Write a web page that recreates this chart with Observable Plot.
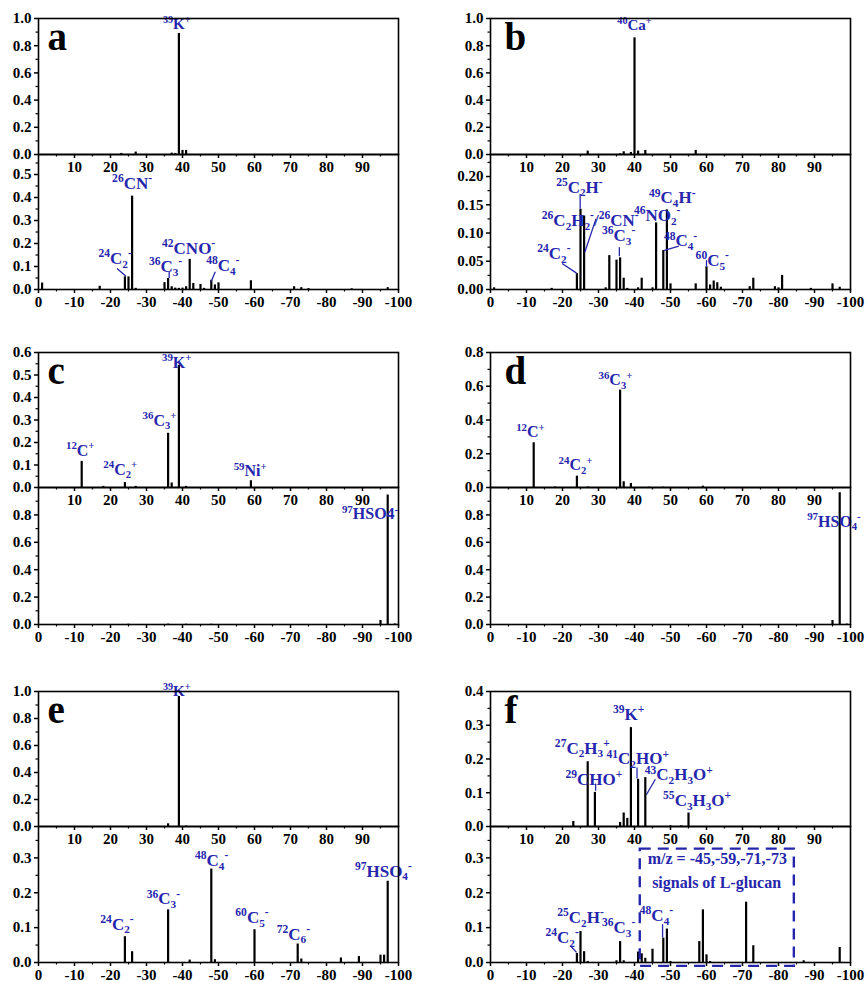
<!DOCTYPE html>
<html><head><meta charset="utf-8">
<script src="https://cdn.jsdelivr.net/npm/d3@7"></script>
<script src="https://cdn.jsdelivr.net/npm/@observablehq/plot@0.6"></script>
<style>
body{margin:0;background:#fff;}
#fig{position:relative;width:866px;height:981px;overflow:hidden;background:#fff;}
#fig svg{position:absolute;}
</style></head><body><div id="fig"></div><script>
// ---------- data (m/z, relative intensity) ----------
// Panel a
const aPosMz = [23, 27, 37, 38, 39, 40, 41];
const aPosI  = [0.008, 0.018, 0.01, 0.008, 0.89, 0.03, 0.03];
const aNegMz = [1, 17, 24, 25, 26, 27, 35, 36, 37, 38, 39, 40, 41, 42, 43, 45, 46, 48, 49, 50, 59, 71, 73, 75, 87, 97];
const aNegI  = [0.028, 0.014, 0.055, 0.055, 0.406, 0.005, 0.03, 0.048, 0.012, 0.006, 0.005, 0.006, 0.012, 0.131, 0.026, 0.022, 0.005, 0.04, 0.02, 0.029, 0.038, 0.012, 0.008, 0.004, 0.003, 0.008];
// Panel b
const bPosMz = [27, 36, 37, 39, 40, 41, 43, 57];
const bPosI  = [0.025, 0.005, 0.02, 0.015, 0.858, 0.025, 0.03, 0.03];
const bNegMz = [1, 17, 24, 25, 26, 32, 33, 35, 36, 37, 38, 41, 42, 45, 46, 48, 49, 50, 57, 60, 61, 62, 63, 64, 72, 73, 79, 80, 81, 89, 95, 97];
const bNegI  = [0.003, 0.002, 0.028, 0.142, 0.13, 0.003, 0.06, 0.052, 0.056, 0.02, 0.002, 0.003, 0.02, 0.003, 0.118, 0.069, 0.141, 0.01, 0.01, 0.04, 0.008, 0.015, 0.012, 0.004, 0.005, 0.02, 0.005, 0.003, 0.025, 0.002, 0.01, 0.004];
// Panel c
const cPosMz = [12, 18, 24, 27, 36, 37, 39, 41, 59];
const cPosI  = [0.116, 0.005, 0.022, 0.005, 0.241, 0.02, 0.543, 0.005, 0.03];
const cNegMz = [25, 36, 41, 48, 95, 97, 99];
const cNegI  = [0.002, 0.003, 0.002, 0.002, 0.029, 0.945, 0.004];
// Panel d
const dPosMz = [12, 18, 24, 27, 36, 37, 39, 44, 48, 59];
const dPosI  = [0.265, 0.003, 0.067, 0.003, 0.577, 0.034, 0.024, 0.002, 0.002, 0.008];
const dNegMz = [95, 97, 99];
const dNegI  = [0.029, 0.962, 0.003];
// Panel e
const ePosMz = [36, 39, 41];
const ePosI  = [0.02, 0.963, 0.003];
const eNegMz = [24, 26, 36, 42, 48, 49, 60, 72, 73, 84, 89, 95, 96, 97];
const eNegI  = [0.074, 0.031, 0.151, 0.007, 0.268, 0.008, 0.094, 0.053, 0.01, 0.013, 0.017, 0.021, 0.021, 0.233];
// Panel f
const fPosMz = [23, 27, 29, 36, 37, 38, 39, 41, 43, 50, 53, 55];
const fPosI  = [0.015, 0.192, 0.101, 0.012, 0.04, 0.024, 0.293, 0.14, 0.145, 0.002, 0.002, 0.04];
const fNegMz = [24, 25, 26, 27, 35, 36, 37, 41, 42, 43, 45, 48, 49, 50, 58, 59, 60, 61, 71, 73, 87, 97];
const fNegI  = [0.026, 0.089, 0.031, 0.003, 0.005, 0.06, 0.005, 0.03, 0.025, 0.012, 0.038, 0.07, 0.096, 0.003, 0.06, 0.151, 0.022, 0.003, 0.173, 0.048, 0.005, 0.043];

// ---------- peak labels (m/z, intensity anchor, text with ^{sup} _{sub}) ----------
const aPosLab = [{x: 38.4, y: 0.955, t: "^{39}K^{+}"}];
const aNegLab = [
  {x: 26, y: 0.46, t: "^{26}CN^{-}"},
  {x: 21.3, y: 0.135, t: "^{24}C_{2}^{-}"},
  {x: 35.3, y: 0.1, t: "^{36}C_{3}^{-}"},
  {x: 41.7, y: 0.178, t: "^{42}CNO^{-}"},
  {x: 51.2, y: 0.105, t: "^{48}C_{4}^{-}"}
];
const aNegLead = [
  {x1: 21.8, y1: 0.091, x2: 24.3, y2: 0.058},
  {x1: 36.3, y1: 0.077, x2: 36.3, y2: 0.05},
  {x1: 49.1, y1: 0.077, x2: 48, y2: 0.036}
];
const bPosLab = [{x: 40, y: 0.95, t: "^{40}Ca^{+}"}];
const bNegLab = [
  {x: 24.7, y: 0.181, t: "^{25}C_{2}H^{-}"},
  {x: 27.7, y: 0.122, t: "^{26}C_{2}H_{2}^{-}/^{26}CN^{-}"},
  {x: 35.6, y: 0.095, t: "^{36}C_{3}^{-}"},
  {x: 17.6, y: 0.064, t: "^{24}C_{2}^{-}"},
  {x: 46.3, y: 0.131, t: "^{46}NO_{2}^{-}"},
  {x: 50.5, y: 0.162, t: "^{49}C_{4}H^{-}"},
  {x: 52.8, y: 0.086, t: "^{48}C_{4}^{-}"},
  {x: 61.6, y: 0.051, t: "^{60}C_{5}^{-}"}
];
const bNegLead = [
  {x1: 24.9, y1: 0.169, x2: 24.9, y2: 0.143},
  {x1: 29.3, y1: 0.125, x2: 26.2, y2: 0.066},
  {x1: 35.8, y1: 0.075, x2: 35.8, y2: 0.059},
  {x1: 19.9, y1: 0.046, x2: 23.9, y2: 0.029},
  {x1: 52.3, y1: 0.077, x2: 48.1, y2: 0.069},
  {x1: 60, y1: 0.052, x2: 60, y2: 0.04}
];
const cPosLab = [
  {x: 11.6, y: 0.164, t: "^{12}C^{+}"},
  {x: 22.7, y: 0.079, t: "^{24}C_{2}^{+}"},
  {x: 33.6, y: 0.298, t: "^{36}C_{3}^{+}"},
  {x: 38.4, y: 0.555, t: "^{39}K^{+}"},
  {x: 58.8, y: 0.074, t: "^{59}Ni^{+}"}
];
const cNegLab = [{x: 92.1, y: 0.805, t: "^{97}HSO4^{-}"}];
const dPosLab = [
  {x: 11.1, y: 0.33, t: "^{12}C^{+}"},
  {x: 23.6, y: 0.132, t: "^{24}C_{2}^{+}"},
  {x: 34.7, y: 0.636, t: "^{36}C_{3}^{+}"}
];
const dNegLab = [{x: 95.4, y: 0.75, t: "^{97}HSO_{4}^{-}"}];
const ePosLab = [{x: 38.4, y: 1.0, t: "^{39}K^{+}"}];
const eNegLab = [
  {x: 21.8, y: 0.11, t: "^{24}C_{2}^{-}"},
  {x: 34.7, y: 0.182, t: "^{36}C_{3}^{-}"},
  {x: 48.1, y: 0.292, t: "^{48}C_{4}^{-}"},
  {x: 59.3, y: 0.129, t: "^{60}C_{5}^{-}"},
  {x: 70.8, y: 0.081, t: "^{72}C_{6}^{-}"},
  {x: 95.8, y: 0.262, t: "^{97}HSO_{4}^{-}"}
];
const fPosLab = [
  {x: 38.4, y: 0.331, t: "^{39}K^{+}"},
  {x: 25.5, y: 0.232, t: "^{27}C_{2}H_{3}^{+}"},
  {x: 40.9, y: 0.2, t: "^{41}C_{2}HO^{+}"},
  {x: 28.7, y: 0.14, t: "^{29}CHO^{+}"},
  {x: 52.3, y: 0.153, t: "^{43}C_{2}H_{3}O^{+}"},
  {x: 57.4, y: 0.076, t: "^{55}C_{3}H_{3}O^{+}"}
];
const fPosLead = [
  {x1: 40.7, y1: 0.175, x2: 40.7, y2: 0.142},
  {x1: 29.2, y1: 0.127, x2: 29.2, y2: 0.106},
  {x1: 45.8, y1: 0.14, x2: 43.3, y2: 0.094}
];
const fNegLab = [
  {x: 19.9, y: 0.072, t: "^{24}C_{2}^{-}"},
  {x: 25, y: 0.129, t: "^{25}C_{2}H^{-}"},
  {x: 35.6, y: 0.1, t: "^{36}C_{3}^{-}"},
  {x: 46.1, y: 0.134, t: "^{48}C_{4}^{-}"}
];
const fNegLead = [
  {x1: 22.2, y1: 0.048, x2: 23.9, y2: 0.029},
  {x1: 47.8, y1: 0.11, x2: 47.8, y2: 0.072}
];
const fBox = [{x1: 41.6, x2: 84.4, y1: -0.011, y2: 0.325}];
const fBoxText = [
  {x: 63, y: 0.297, t: "m/z = -45,-59,-71,-73"},
  {x: 62.8, y: 0.227, t: "signals of L-glucan"}
];

// ---------- ticks ----------
const xTopTicks = [10, 20, 30, 40, 50, 60, 70, 80, 90];
const xBotTicks = [0, 10, 20, 30, 40, 50, 60, 70, 80, 90, 100];
const y10by02 = [0, 0.2, 0.4, 0.6, 0.8, 1.0];
const y08by02 = [0, 0.2, 0.4, 0.6, 0.8];
const y06by01 = [0, 0.1, 0.2, 0.3, 0.4, 0.5, 0.6];
const y05by01 = [0, 0.1, 0.2, 0.3, 0.4, 0.5];
const y04by01 = [0, 0.1, 0.2, 0.3, 0.4];
const y03by01 = [0, 0.1, 0.2, 0.3];
const y020by005 = [0, 0.05, 0.10, 0.15, 0.20];

// ---------- drawing ----------
const BLUE = "#2626ad";
const FONT = "'Liberation Serif', 'Times New Roman', serif";
const fig = document.getElementById("fig");

function minorOf(ticks, extraTop) {
  const step = ticks[1] - ticks[0];
  const out = [];
  for (let i = 0; i < ticks.length - (extraTop ? 0 : 1); i++) out.push(+(ticks[i] + step / 2).toFixed(4));
  return out;
}

function richify(svg) {
  const NS = "http://www.w3.org/2000/svg";
  svg.querySelectorAll('g[aria-label="text"] text').forEach(el => {
    const s = el.textContent;
    if (!/[\^_]\{/.test(s)) return;
    const fs = parseFloat(getComputedStyle(el).fontSize) || 15;
    el.textContent = "";
    let shift = 0;
    const re = /\^\{([^}]*)\}|_\{([^}]*)\}|([^\^_]+)/g;
    let m;
    while ((m = re.exec(s))) {
      let txt, target, size;
      if (m[1] !== undefined) { txt = m[1]; target = -0.40 * fs; size = 0.68 * fs; }
      else if (m[2] !== undefined) { txt = m[2]; target = 0.22 * fs; size = 0.66 * fs; }
      else { txt = m[3]; target = 0; size = fs; }
      const t = document.createElementNS(NS, "tspan");
      t.setAttribute("dy", (target - shift).toFixed(2));
      t.setAttribute("font-size", size.toFixed(2));
      t.textContent = txt;
      el.appendChild(t);
      shift = target;
    }
  });
}

function sub(o) {
  const mt = 3, mb = 30;
  const data = o.mz.map((m, i) => ({m, v: o.inten[i]}));
  const xTicks = o.top ? xTopTicks : xBotTicks;
  const xMinor = d3.range(5, 100, 10);
  const xFmt = o.top ? (d => String(d)) : (d => d === 0 ? "0" : "-" + d);
  const marks = [
    Plot.ruleX(data, {x: "m", y1: 0, y2: "v", stroke: "#000", strokeWidth: 2.2}),
    Plot.link(o.leaders || [], {x1: "x1", y1: "y1", x2: "x2", y2: "y2", stroke: BLUE, strokeWidth: 1.3}),
    Plot.text(o.labels || [], {x: "x", y: "y", text: "t", fill: BLUE, fontSize: o.lsize, fontWeight: "bold"}),
    Plot.frame({stroke: "#000", strokeWidth: 1.6}),
    Plot.axisY(o.yTicks, {tickSize: 4, tickPadding: 3, tickFormat: o.yFmt, label: null, strokeWidth: 1.5, fontSize: 15}),
    Plot.axisY(minorOf(o.yTicks, o.minorTop), {tickSize: 2.5, tickFormat: () => "", label: null, strokeWidth: 1.2}),
    Plot.axisX(xTicks, {tickSize: 4, tickPadding: 3, tickFormat: xFmt, label: null, strokeWidth: 1.5, fontSize: 15}),
    Plot.axisX(xMinor, {tickSize: 2.5, tickFormat: () => "", label: null, strokeWidth: 1.2})
  ];
  if (o.extra) marks.push(...o.extra);
  if (o.letter) marks.push(Plot.text([o.letter], {text: d => d, frameAnchor: "top-left", textAnchor: "start", lineAnchor: "bottom", dx: o.letterDx, dy: 31, fontSize: 39, fontWeight: "bold", fill: "#000"}));
  const svg = Plot.plot({
    width: 433, height: mt + o.fh + mb,
    marginTop: mt, marginBottom: mb, marginLeft: o.ml, marginRight: o.mr,
    x: {domain: [0, 100]}, y: {domain: o.yDomain},
    style: {background: "transparent", overflow: "visible", fontFamily: FONT, fontSize: "15px", fontWeight: "bold", color: "#000"},
    marks
  });
  svg.style.position = "absolute";
  svg.style.left = o.left + "px";
  svg.style.top = (o.frameTop - mt) + "px";
  fig.appendChild(svg);
  richify(svg);
}

const cols = [{left: 0, ml: 38, mr: 35, ldx: 9}, {left: 433, ml: 57, mr: 16, ldx: 14}];
const rows = [
  {tTop: 18, tH: 136, bTop: 154, bH: 135},
  {tTop: 352, tH: 135, bTop: 487, bH: 137},
  {tTop: 691, tH: 135, bTop: 826, bH: 136}
];
const f1 = d3.format(".1f"), f2 = d3.format(".2f");

const panels = [
  {letter: "a", c: 0, r: 0,
   top: {yDomain: [0, 1], yTicks: y10by02, mz: aPosMz, inten: aPosI, labels: aPosLab, lsize: 15},
   bot: {yDomain: [0, 0.587], yTicks: y05by01, minorTop: true, mz: aNegMz, inten: aNegI, labels: aNegLab, leaders: aNegLead, lsize: 17}},
  {letter: "b", c: 1, r: 0,
   top: {yDomain: [0, 1], yTicks: y10by02, mz: bPosMz, inten: bPosI, labels: bPosLab, lsize: 15},
   bot: {yDomain: [0, 0.239], yTicks: y020by005, minorTop: true, yFmt: f2, mz: bNegMz, inten: bNegI, labels: bNegLab, leaders: bNegLead, lsize: 17}},
  {letter: "c", c: 0, r: 1,
   top: {yDomain: [0, 0.6], yTicks: y06by01, mz: cPosMz, inten: cPosI, labels: cPosLab, lsize: 16},
   bot: {yDomain: [0, 1.0], yTicks: y08by02, minorTop: true, mz: cNegMz, inten: cNegI, labels: cNegLab, lsize: 16}},
  {letter: "d", c: 1, r: 1,
   top: {yDomain: [0, 0.8], yTicks: y08by02, mz: dPosMz, inten: dPosI, labels: dPosLab, lsize: 16},
   bot: {yDomain: [0, 1.0], yTicks: y08by02, minorTop: true, mz: dNegMz, inten: dNegI, labels: dNegLab, lsize: 16}},
  {letter: "e", c: 0, r: 2,
   top: {yDomain: [0, 1], yTicks: y10by02, mz: ePosMz, inten: ePosI, labels: ePosLab, lsize: 15},
   bot: {yDomain: [0, 0.39], yTicks: y03by01, minorTop: true, mz: eNegMz, inten: eNegI, labels: eNegLab, lsize: 17}},
  {letter: "f", c: 1, r: 2,
   top: {yDomain: [0, 0.4], yTicks: y04by01, mz: fPosMz, inten: fPosI, labels: fPosLab, leaders: fPosLead, lsize: 17},
   bot: {yDomain: [0, 0.39], yTicks: y03by01, minorTop: true, mz: fNegMz, inten: fNegI, labels: fNegLab, leaders: fNegLead, lsize: 17,
         extra: [
           Plot.rect(fBox, {x1: "x1", x2: "x2", y1: "y1", y2: "y2", fill: "none", stroke: BLUE, strokeWidth: 2.4, strokeDasharray: "11,7"}),
           Plot.text(fBoxText, {x: "x", y: "y", text: "t", fill: BLUE, fontSize: 16, fontWeight: "bold"})
         ]}}
];

for (const p of panels) {
  const col = cols[p.c], row = rows[p.r];
  sub({...p.bot, top: false, left: col.left, ml: col.ml, mr: col.mr, frameTop: row.bTop, fh: row.bH, yFmt: p.bot.yFmt || f1});
  sub({...p.top, top: true, left: col.left, ml: col.ml, mr: col.mr, frameTop: row.tTop, fh: row.tH, yFmt: p.top.yFmt || f1, letter: p.letter, letterDx: col.ldx});
}
</script></body></html>
